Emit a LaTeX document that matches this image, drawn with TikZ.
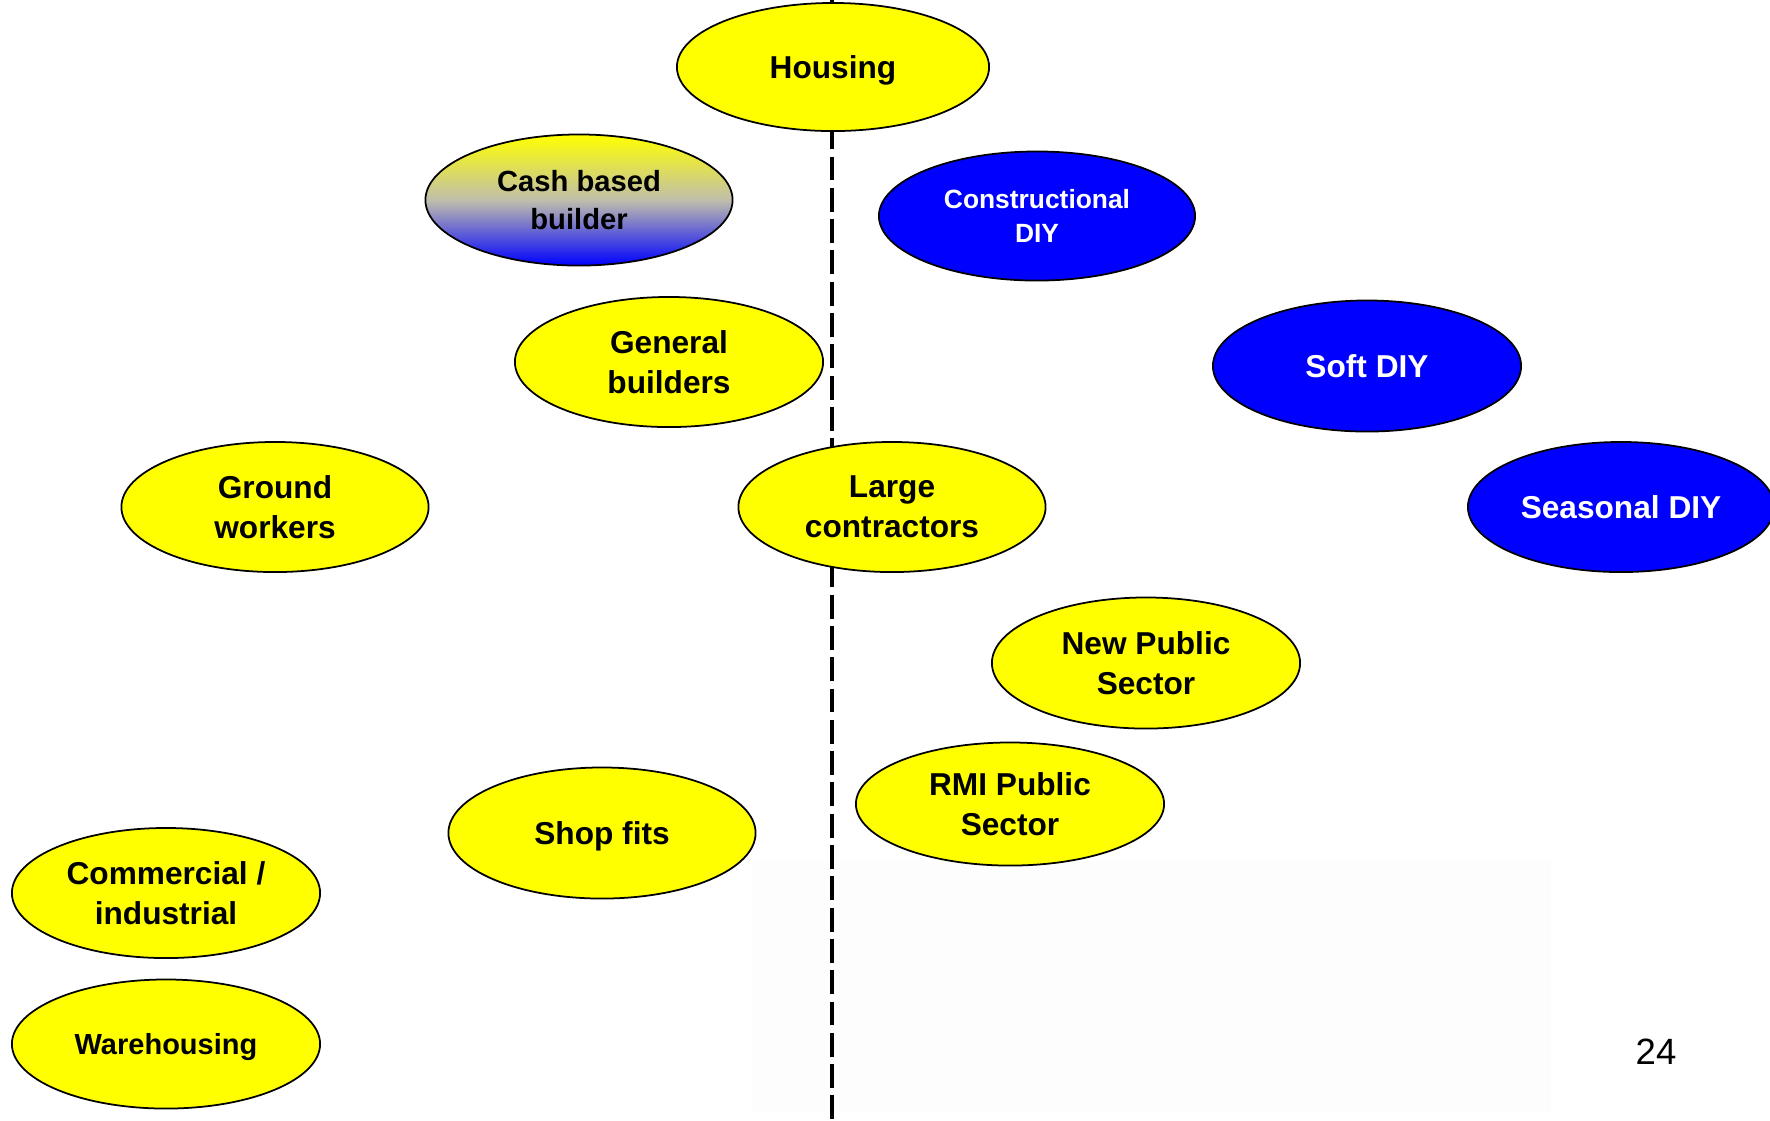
\documentclass[tikz,border=0pt]{standalone}
\usepackage{fontspec}
\setmainfont{Liberation Sans}
\usetikzlibrary{shapes.geometric}
\definecolor{segyellow}{RGB}{255,255,0}
\definecolor{segblue}{RGB}{0,0,255}
\definecolor{seggrey}{RGB}{192,190,172}
\definecolor{panel}{RGB}{253,253,253}

\begin{document}
\begin{tikzpicture}[x=0.01cm, y=-0.01cm,
	seg/.style={ellipse, draw=black, line width=0.5pt, inner sep=0pt, minimum width=3.08cm, minimum height=1.3cm, align=center, font=\bfseries\fontsize{9}{11.5}\selectfont},
	yel/.style={seg, fill=segyellow},
	blu/.style={seg, fill=segblue, text=white}]
	\clip (0,0) rectangle (1770,1120);
	\fill[white] (0,0) rectangle (1770,1120);
	\fill[panel] (752,861) rectangle (1551,1112);
	% split line
	\coordinate (top) at (832,0);
	\coordinate (bottom) at (832,1120);
	\draw[line width=1.4pt, dash pattern=on 6.8pt off 2.1pt] (top) -- (bottom);
	\node[yel, minimum width=3.12cm, minimum height=1.28cm, text depth=0pt] (housing) at (833,67) {Housing};
	\node[seg, top color=segyellow, bottom color=segblue, middle color=seggrey, minimum width=3.07cm, minimum height=1.31cm, font=\bfseries\fontsize{8.3}{10.9}\selectfont] (cash) at (579,200) {Cash based\\builder};
	\node[blu, minimum width=3.16cm, minimum height=1.29cm, font=\bfseries\fontsize{7.5}{9.6}\selectfont] (constr) at (1037,216) {Constructional\\DIY};
	\node[yel] (general) at (669,362) {General\\builders};
	\node[blu, minimum height=1.31cm] (soft) at (1367,366) {Soft DIY};
	\node[yel, minimum width=3.07cm] (ground) at (275,507) {Ground\\workers};
	\node[yel, minimum width=3.07cm] (large) at (892,507) {Large\\contractors};
	\node[blu, minimum width=3.06cm] (seasonal) at (1621,507) {Seasonal DIY};
	\node[yel, minimum height=1.31cm] (newpub) at (1146,663) {New Public\\Sector};
	\node[yel, minimum height=1.23cm] (rmi) at (1010,804) {RMI Public\\Sector};
	\node[yel, minimum width=3.07cm, minimum height=1.31cm, text depth=0pt] (shop) at (602,833) {Shop fits};
	\node[yel] (commercial) at (166,893) {Commercial /\\industrial};
	\node[yel, minimum height=1.29cm, text depth=0pt, font=\bfseries\fontsize{8.25}{10.5}\selectfont] (warehousing) at (166,1044) {Warehousing};
	\node[font=\fontsize{10.4}{12}\selectfont] (page) at (1656,1052) {24};
\end{tikzpicture}
\end{document}
